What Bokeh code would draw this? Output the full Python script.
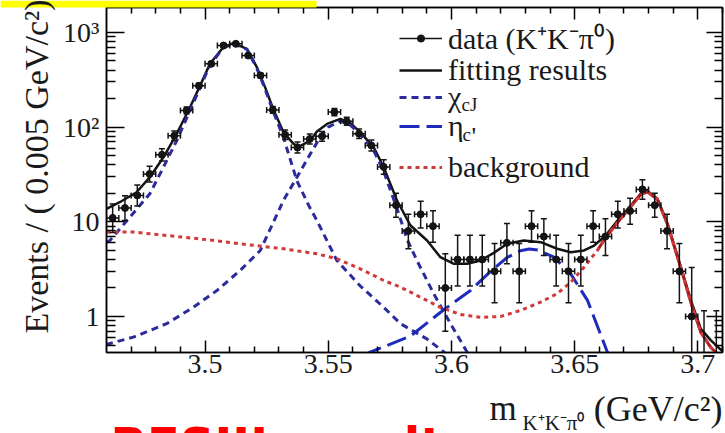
import math
import numpy as np
from bokeh.plotting import figure
from bokeh.layouts import column
from bokeh.models import (ColumnDataSource, FixedTicker, CustomJSTickFormatter, LinearAxis,
                          LogAxis, Legend, LegendItem, Label, Range1d, BoxAnnotation, Grid)
from bokeh.embed import file_html
from bokeh.resources import INLINE

# ---------------- data ----------------
bin_centers = [3.4625, 3.4675, 3.4725, 3.4775, 3.4825, 3.4875, 3.4925, 3.4975, 3.5025, 3.5075,
               3.5125, 3.5175, 3.5225, 3.5275, 3.5325, 3.5375, 3.5425, 3.5475, 3.5525, 3.5575,
               3.5625, 3.5675, 3.5725, 3.5775, 3.5825, 3.5875, 3.5925, 3.5975, 3.6025, 3.6075,
               3.6125, 3.6175, 3.6225, 3.6275, 3.6325, 3.6375, 3.6425, 3.6475, 3.6525, 3.6575,
               3.6625, 3.6675, 3.6725, 3.6775, 3.6825, 3.6875, 3.6925, 3.6975, 3.7025, 3.7075]
counts = [11, 14, 19, 32, 51, 81, 150, 273, 466, 727,
          758, 570, 351, 152, 83, 61, 75, 80, 144, 115,
          85, 64, 38, 15, 8, 12, 9, 2, 4, 4,
          4, 3, 6, 3, 9, 7, 4, 3, 4, 9,
          7, 12, 13, 22, 15, 8, 3, 1, 0, 0]
err_lo = [3.3, 3.7, 4.3, 5.6, 7.1, 9.0, 12.2, 16.5, 21.6, 27.0,
          27.5, 23.9, 18.7, 12.3, 9.1, 7.8, 8.6, 8.9, 12.0, 10.7,
          9.2, 8.0, 6.2, 3.8, 2.8, 3.4, 2.9, 1.3, 1.9, 1.9,
          1.9, 1.6, 2.4, 1.6, 2.9, 2.6, 1.9, 1.6, 1.9, 2.9,
          2.6, 3.4, 3.6, 4.7, 3.8, 2.8, 1.6, 0.8, 0.0, 0.0]
err_hi = [4.4, 4.8, 5.4, 6.7, 8.2, 10.0, 13.3, 17.5, 22.6, 28.0,
          28.5, 24.9, 19.7, 13.3, 10.1, 8.8, 9.7, 9.9, 13.0, 11.7,
          10.2, 9.0, 7.2, 5.0, 4.0, 4.5, 4.1, 2.6, 3.2, 3.2,
          3.2, 2.9, 3.6, 2.9, 4.1, 3.8, 3.2, 2.9, 3.2, 4.1,
          3.8, 4.5, 4.7, 5.8, 5.0, 4.0, 2.9, 2.3, 1.15, 1.15]
bin_half_width = 0.0025

fit_x = [3.4600, 3.4654, 3.4722, 3.4776, 3.4831, 3.4885, 3.4939, 3.4980, 3.5020, 3.5074,
         3.5115, 3.5170, 3.5210, 3.5245, 3.5275, 3.5318, 3.5359, 3.5380, 3.5427, 3.5454,
         3.5495, 3.5549, 3.5590, 3.5630, 3.5684, 3.5725, 3.5779, 3.5833, 3.5901, 3.5955,
         3.6010, 3.6064, 3.6118, 3.6172, 3.6226, 3.6294, 3.6362, 3.6429, 3.6484, 3.6538,
         3.6579, 3.6626, 3.6674, 3.6728, 3.6768, 3.6795, 3.6836, 3.6877, 3.6931, 3.6972,
         3.7012, 3.7053, 3.7100]
fit_y = [13.7, 16.1, 20.5, 29.6, 48, 85, 162, 275, 466, 698,
         769, 671, 430, 258, 159, 88, 66.6, 62, 72, 90,
         108, 122, 110, 88, 61.4, 37.7, 16.8, 9.2, 6.35, 4.23,
         3.6, 3.6, 3.9, 4.7, 5.86, 6.35, 6.1, 5.19, 4.77, 4.98,
         5.62, 7.17, 10.3, 14.9, 19.8, 21.1, 17.5, 9.5, 3.32, 1.48,
         0.74, 0.56, 0.43]

chic1_x = [3.4600, 3.4614, 3.4695, 3.4776, 3.4831, 3.4885, 3.4939, 3.4980, 3.5020, 3.5074,
           3.5115, 3.5170, 3.5210, 3.5245, 3.5275, 3.5318, 3.5373, 3.5420, 3.5454, 3.5535,
           3.5630, 3.5725, 3.5793, 3.5900, 3.5970, 3.6020]
chic1_y = [6.1, 6.35, 11.2, 19.8, 37.7, 72, 150, 262, 452, 688,
           762, 662, 420, 247, 150, 78, 27, 15, 10.3, 3.9,
           2.1, 1.25, 0.84, 0.58, 0.42, 0.34]

chic2_x = [3.4598, 3.4709, 3.4844, 3.4952, 3.5048, 3.5142, 3.5183, 3.5224, 3.5270, 3.5318,
           3.5373, 3.5427, 3.5467, 3.5500, 3.5549, 3.5590, 3.5630, 3.5684, 3.5725, 3.5779,
           3.5820, 3.5860, 3.5928, 3.5996, 3.6064, 3.6100]
chic2_y = [0.506, 0.605, 0.84, 1.25, 1.88, 3.06, 3.9, 4.98, 9.0, 16.8,
           29.6, 52, 78, 100, 116, 105, 84, 57, 34, 13.8,
           6.5, 3.9, 1.74, 0.84, 0.42, 0.3]

etacp_x = [3.5640, 3.5670, 3.5833, 3.5969, 3.6077, 3.6159, 3.6226, 3.6280, 3.6315, 3.6350,
           3.6416, 3.6484, 3.6552, 3.6633, 3.6660]
etacp_y = [0.38, 0.42, 0.62, 1.18, 1.88, 3.0, 4.2, 4.95, 5.15, 5.05,
           4.23, 2.82, 1.48, 0.42, 0.33]

bkg_x = [3.4600, 3.4709, 3.4844, 3.4980, 3.5142, 3.5318, 3.5454, 3.5535, 3.5630, 3.5725,
         3.5793, 3.5874, 3.5955, 3.6037, 3.6118, 3.6199, 3.6280, 3.6362, 3.6429, 3.6484,
         3.6538, 3.6592, 3.6626, 3.6674, 3.6728, 3.6768, 3.6795, 3.6836, 3.6877, 3.6931,
         3.6972, 3.7012, 3.7053, 3.7080]
bkg_y = [7.77, 7.8, 7.17, 6.6, 5.86, 5.19, 4.59, 4.07, 3.19, 2.4,
         2.04, 1.6, 1.25, 1.05, 0.98, 1.0, 1.16, 1.42, 1.74, 2.3,
         3.32, 4.98, 6.8, 9.8, 14.5, 19.4, 20.7, 17.2, 9.4, 3.25,
         1.4, 0.68, 0.47, 0.40]
psi_region_start = 3.659

x_tick_vals = [3.5, 3.55, 3.6, 3.65, 3.7]
x_tick_labels = ["3.5", "3.55", "3.6", "3.65", "3.7"]
y_tick_vals = [1, 10, 100, 1000]
y_tick_labels = ["1", "10", "10\u00b2", "10\u00b3"]

x_title_main = "m"
x_title_sub = "K\u207aK\u207b\u03c0\u2070"
x_title_unit = "(GeV/c\u00b2)"
y_title = "Events / ( 0.005 GeV/c\u00b2)"
legend_labels = ["data (K\u207aK\u207b\u03c0\u2070)", "fitting results", "\u03c7", "\u03b7", "background"]
banner_text = "BESIII results:"

# ---------------- figure ----------------
SERIF = "Liberation Serif"
W, H = 725, 433
F_LEFT, F_RIGHT, F_TOP, F_BOTTOM = 106, 722, 7, 352
p = figure(width=W, height=H, output_backend="svg", toolbar_location=None,
           y_axis_type="log", x_range=Range1d(3.46, 3.71), y_range=Range1d(0.4168, 1832),
           min_border_left=F_LEFT, min_border_right=W - F_RIGHT, min_border_top=F_TOP,
           min_border_bottom=H - F_BOTTOM)
p.title.visible = False
p.xgrid.visible = False
p.ygrid.visible = False
p.outline_line_color = "black"
p.outline_line_width = 1.5
p.background_fill_color = "white"
p.border_fill_color = "white"

x_minor = [round(3.47 + 0.01 * i, 2) for i in range(25)]
x_minor = [v for v in x_minor if all(abs(v - t) > 1e-6 for t in x_tick_vals)]
y_minor = [0.5, 0.6, 0.7, 0.8, 0.9] + [k * 10 ** e for e in range(3) for k in range(2, 10)]
xt = FixedTicker(ticks=x_tick_vals, minor_ticks=x_minor)
yt = FixedTicker(ticks=y_tick_vals, minor_ticks=y_minor)

fmt_code = """
for (let i = 0; i < vals.length; i++) {
  if (Math.abs(tick - vals[i]) <= 1e-9 * Math.max(1, Math.abs(vals[i]))) { return labs[i]; }
}
return "";
"""
xfmt = CustomJSTickFormatter(args=dict(vals=x_tick_vals, labs=x_tick_labels), code=fmt_code)
yfmt = CustomJSTickFormatter(args=dict(vals=y_tick_vals, labs=y_tick_labels), code=fmt_code)
blank_fmt = CustomJSTickFormatter(code="return ' ';")

def style_axis(ax, tick_in, minor_in, standoff, labels=True):
    ax.axis_line_width = 1.5
    ax.major_tick_in = tick_in
    ax.major_tick_out = 0
    ax.minor_tick_in = minor_in
    ax.minor_tick_out = 0
    ax.major_tick_line_width = 1.5
    ax.minor_tick_line_width = 1.5
    ax.major_label_standoff = standoff
    if labels:
        ax.major_label_text_font = SERIF
        ax.major_label_text_font_size = "28px"
        ax.major_label_text_color = "#1a1a1a"
    else:
        ax.formatter = blank_fmt
        ax.major_label_text_font_size = "1px"
        ax.major_label_text_alpha = 0

xa = p.xaxis[0]
xa.ticker = xt
xa.formatter = xfmt
style_axis(xa, 12, 6, 2)
ya = p.yaxis[0]
ya.ticker = yt
ya.formatter = yfmt
style_axis(ya, 18, 9, 7)

top = LinearAxis(ticker=xt)
style_axis(top, 12, 6, 0, labels=False)
p.add_layout(top, "above")
right = LogAxis(ticker=yt)
style_axis(right, 16, 8, 0, labels=False)
p.add_layout(right, "right")

# ---------------- curves ----------------
BLACK = "#141414"
CHI_BLUE = "#2b2b9c"
ETA_BLUE = "#1f2bbb"
BKG_RED = "#d03a3a"
PSI_RED = "#a81c1c"

fit_r = p.line(fit_x, fit_y, line_color=BLACK, line_width=2.5)
bx = np.array(bkg_x)
by = np.array(bkg_y)
mask = bx >= psi_region_start
p.line(bx[mask], by[mask], line_color=PSI_RED, line_width=3)
chi_r = p.line(chic1_x, chic1_y, line_color=CHI_BLUE, line_width=3, line_dash="7 5")
p.line(chic2_x, chic2_y, line_color=CHI_BLUE, line_width=3, line_dash="7 5")
eta_r = p.line(etacp_x, etacp_y, line_color=ETA_BLUE, line_width=3, line_dash="20 7")
bkg_r = p.line(bkg_x, bkg_y, line_color=BKG_RED, line_width=3, line_dash="4 4")

# ---------------- data with error bars ----------------
x = np.array(bin_centers)
cnt = np.array(counts, dtype=float)
y_pt = np.where(cnt > 0, cnt, np.nan)
y_lo = np.maximum(cnt - np.array(err_lo), 1e-3)
y_hi = cnt + np.array(err_hi)
src = ColumnDataSource(dict(x=x, y=y_pt, ylo=y_lo, yhi=y_hi,
                            xl=x - bin_half_width, xr=x + bin_half_width))
p.segment(x0="x", y0="ylo", x1="x", y1="yhi", source=src, line_color=BLACK, line_width=1.5)
hseg = p.segment(x0="xl", y0="y", x1="xr", y1="y", source=src, line_color=BLACK, line_width=1.5)
for col in ("yhi", "ylo"):
    p.scatter(x="x", y=col, source=src, marker="dash", size=6, line_color=BLACK, line_width=1.5)
for col in ("xl", "xr"):
    p.scatter(x=col, y="y", source=src, marker="dash", angle=math.pi / 2, size=6,
              line_color=BLACK, line_width=1.5)
pts = p.scatter(x="x", y="y", source=src, marker="circle", size=7, fill_color=BLACK,
                line_color=BLACK)

# ---------------- legend (one box per row) ----------------
rows = [(legend_labels[0], [hseg, pts], 42),
        (legend_labels[1], [fit_r], 71),
        (legend_labels[2], [chi_r], 98),
        (legend_labels[3], [eta_r], 127),
        (legend_labels[4], [bkg_r], 168)]
for lab, rends, cy in rows:
    leg = Legend(items=[LegendItem(label=lab, renderers=rends)],
                 location=(399 - F_LEFT, 336 - cy),
                 glyph_width=43, glyph_height=18, label_height=18, label_standoff=6,
                 padding=0, spacing=0, margin=0,
                 label_text_font=SERIF, label_text_font_size="30px", label_text_color="#1a1a1a",
                 background_fill_alpha=0, border_line_alpha=0)
    p.add_layout(leg)

def frame_label(text, px, py, size, **kw):
    # px, py: page pixel position, converted to frame screen units
    p.add_layout(Label(x=px - F_LEFT, y=F_BOTTOM - py, x_units="screen", y_units="screen",
                       text=text, text_font=SERIF, text_font_size=size, text_color="#1a1a1a",
                       text_baseline="alphabetic", **kw))

frame_label("cJ", 461, 104, "19px")
frame_label("c", 462, 134, "19px")
frame_label("'", 471, 136, "26px")

# ---------------- overlay for texts outside the frame ----------------
q = figure(width=W, height=H, output_backend="svg", toolbar_location=None,
           x_range=Range1d(0, W), y_range=Range1d(H, 0),
           x_axis_location=None, y_axis_location=None, min_border=0,
           min_border_left=0, min_border_right=0, min_border_top=0, min_border_bottom=0)
q.title.visible = False
q.outline_line_color = None
q.background_fill_color = None
q.border_fill_color = None
for g in q.select(type=Grid):
    g.visible = False
q.margin = (-H, 0, 0, 0)
if "frame_align" in q.properties():
    q.frame_align = False
if "frame_align" in p.properties():
    p.frame_align = False

q.add_layout(BoxAnnotation(left=0, right=316, top=0, bottom=7, fill_color="#ffff00",
                           fill_alpha=1, line_color=None, level="underlay"))

def page_label(text, px, py, size, **kw):
    q.add_layout(Label(x=px, y=py, text=text, text_font=kw.pop("font", SERIF),
                       text_font_size=size, text_color=kw.pop("color", "#1a1a1a"),
                       text_baseline="alphabetic", **kw))

page_label(y_title, 36, 333, "34px", angle=math.pi / 2, text_align="left")
page_label(x_title_main, 489, 408, "35px")
page_label(x_title_sub, 522, 422, "21px")
page_label(x_title_unit, 722, 408, "36px", text_align="right")
page_label(banner_text, 110, 444, "48px", font="DejaVu Sans", color="#ff0000",
           text_font_style="bold")

layout = column(p, q, spacing=0)
open("out.html", "w").write(file_html(layout, INLINE))
